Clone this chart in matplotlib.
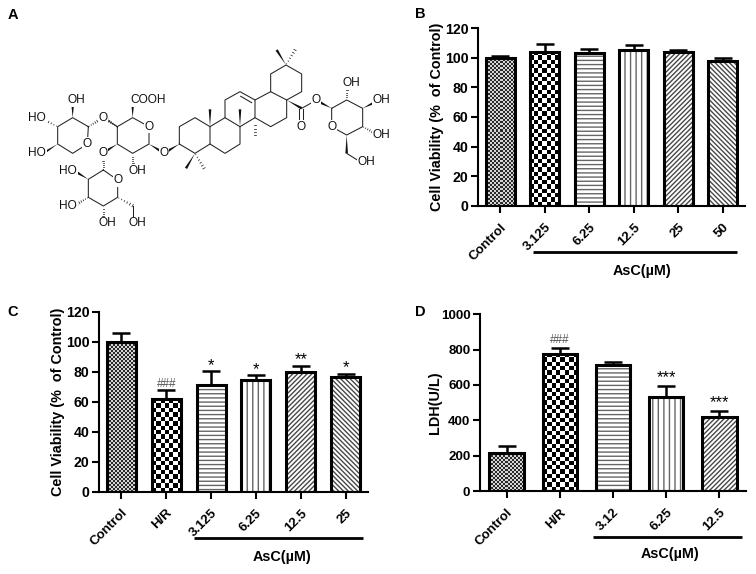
import numpy as np
import matplotlib
matplotlib.use('Agg')
import matplotlib.pyplot as plt
from matplotlib.patches import Polygon

plt.rcParams['font.family'] = ['Liberation Sans', 'DejaVu Sans']
plt.rcParams['hatch.linewidth'] = 1.0

###############################################################################
# DATA
labels_b = ['Control', '3.125', '6.25', '12.5', '25', '50']
values_b = [100, 104, 103, 105, 104, 98]
errors_b = [1, 5, 3, 3.5, 1.5, 2]
fills_b = ['fine', 'check', 'hline', 'vline', 'diag', 'anti']

labels_c = ['Control', 'H/R', '3.125', '6.25', '12.5', '25']
values_c = [100, 61.5, 71, 74.5, 80, 76.5]
errors_c = [5.5, 6, 9.2, 3, 4, 2]
marks_c = ['', '###', '*', '*', '**', '*']
fills_c = ['fine', 'check', 'hline', 'vline', 'diag', 'anti']

labels_d = ['Control', 'H/R', '3.12', '6.25', '12.5']
values_d = [215, 778, 712, 533, 417]
errors_d = [42, 29, 18, 61, 38]
marks_d = ['', '###', '', '***', '***']
fills_d = ['fine', 'check', 'hline', 'vline', 'diag']

# structure in panel A, in 3x zoom pixels
bonds = [
    # xylose
    [(265, 380), (262, 432), (218, 460), (173, 432), (173, 380), (218, 353), (265, 380)],
    # glucuronic acid
    [(352, 380), (398, 353), (447, 380), (447, 432), (398, 460), (352, 432), (352, 380)],
    [(310, 353), (352, 380)],
    # lower glucose
    [(310, 510), (353, 540), (353, 592), (310, 618), (265, 592), (265, 538), (310, 510)],
    [(398, 617), (398, 655)],
    # rings A-E
    [(491, 460), (505, 452)],
    [(538, 432), (538, 380), (585, 353), (630, 380), (630, 432), (585, 460), (538, 432)],
    [(630, 380), (675, 353), (720, 380), (720, 432), (675, 460), (630, 432)],
    [(675, 353), (675, 300), (720, 275), (765, 300), (765, 353), (720, 380)],
    [(765, 353), (812, 380), (860, 353), (860, 300), (812, 275), (765, 300)],
    [(812, 275), (812, 222), (858, 195), (905, 222), (905, 275), (860, 300)],
    [(722, 289), (755, 308)],
    # ester and glucose
    [(905, 325), (948, 301)],
    [(897, 328), (897, 370)],
    [(910, 328), (910, 370)],
    [(995, 325), (1040, 300), (1088, 325), (1088, 380), (1040, 405), (995, 380), (995, 325)],
    [(1040, 460), (1072, 480)],
]
wedges = [
    [(218, 353), (218, 315)], [(173, 432), (130, 460)], [(398, 353), (398, 315)],
    [(352, 432), (320, 452)], [(447, 432), (480, 452)], [(538, 432), (505, 452)],
    [(265, 538), (232, 518)], [(585, 460), (558, 505)], [(630, 380), (630, 328)],
    [(720, 380), (720, 328)], [(858, 195), (830, 150)], [(860, 300), (905, 325)],
    [(995, 325), (962, 308)], [(1088, 325), (1122, 308)], [(1040, 405), (1040, 460)],
]
hashes = [
    [(173, 380), (130, 358)], [(265, 380), (298, 360)], [(352, 380), (322, 360)],
    [(398, 460), (398, 497)], [(310, 510), (310, 478)], [(265, 592), (232, 612)],
    [(310, 618), (310, 655)], [(353, 592), (398, 617)], [(585, 460), (612, 505)],
    [(765, 353), (765, 405)], [(858, 195), (885, 150)], [(1040, 300), (1040, 265)],
    [(1088, 380), (1122, 398)],
]
atoms = [
    (230, 301, 'OH'), (112, 355, 'HO'), (112, 460, 'HO'), (310, 353, 'O'), (262, 432, 'O'),
    (443, 301, 'COOH'), (447, 380, 'O'), (310, 460, 'O'), (413, 513, 'OH'), (491, 460, 'O'),
    (205, 513, 'HO'), (353, 540, 'O'), (205, 618, 'HO'), (323, 670, 'OH'), (413, 670, 'OH'),
    (903, 380, 'O'), (948, 301, 'O'), (995, 380, 'O'), (1053, 250, 'OH'), (1145, 301, 'OH'),
    (1145, 405, 'OH'), (1098, 487, 'OH'),
]

###############################################################################
W, H = 756, 574
fig = plt.figure(figsize=(W / 100, H / 100), dpi=100)


def axes_px(x0, x1, ytop, ybottom):
    ax = fig.add_axes([x0 / W, 1 - ybottom / H, (x1 - x0) / W, (ybottom - ytop) / H])
    ax.patch.set_alpha(0)
    return ax


def texture(ax, xc, w, h, cell, low, high):
    # checker fill, no checker hatch in matplotlib
    p0 = ax.transData.transform((xc - w / 2, 0))
    p1 = ax.transData.transform((xc + w / 2, h))
    nx = max(int(round((p1[0] - p0[0]) / cell)), 1)
    ny = max(int(round((p1[1] - p0[1]) / cell)), 1)
    yy, xx = np.indices((ny, nx))
    ax.imshow((xx + yy) % 2, extent=(xc - w / 2, xc + w / 2, 0, h), origin='lower', aspect='auto',
              cmap='gray', vmin=low, vmax=high, interpolation='nearest', zorder=1)


def bars(ax, labels, values, errors, fills, ymax, yticks, ylabel, pad, ysize, width=0.65):
    xs = np.arange(1, len(values) + 1)
    ax.set_xlim(0.5, len(values) + 0.5)
    ax.set_ylim(0, ymax)
    for x, v, f in zip(xs, values, fills):
        if f == 'fine':
            texture(ax, x, width, v, 2, -0.25, 1.25)
        elif f == 'check':
            texture(ax, x, width, v, 4.3, 0, 1)
        else:
            hatch = {'hline': '----', 'vline': '|||', 'diag': '///////', 'anti': '\\\\\\\\\\\\\\'}[f]
            color = '#666666' if f in ('hline', 'vline') else '#484848'
            ax.bar(x, v, width, color='white', edgecolor=color, hatch=hatch, linewidth=0, zorder=1)
    ax.set_xlim(0.5, len(values) + 0.5)
    ax.set_ylim(0, ymax)
    ax.errorbar(xs, values, yerr=[[0] * len(errors), errors], fmt='none', ecolor='black',
                elinewidth=1.8, capsize=6.2, capthick=1.8, zorder=2)
    ax.bar(xs, values, width, facecolor='none', edgecolor='black', linewidth=2.2, zorder=3)
    ax.spines['top'].set_visible(False)
    ax.spines['right'].set_visible(False)
    ax.spines['left'].set_linewidth(1.5)
    ax.spines['bottom'].set_linewidth(1.5)
    ax.set_yticks(yticks)
    ax.set_xticks(xs)
    ax.set_xticklabels(labels, rotation=45, ha='right', rotation_mode='anchor')
    ax.tick_params(width=1.5, length=5)
    ax.tick_params(axis='x', pad=6, labelsize=9.5)
    ax.tick_params(axis='y', pad=2, labelsize=ysize)
    for t in ax.get_xticklabels() + ax.get_yticklabels():
        t.set_fontweight('bold')
    ax.set_ylabel(ylabel, fontsize=10.4, fontweight='bold', labelpad=pad)
    return xs


def marks(ax, xs, values, errors, marks, gap, hash_gap):
    for x, v, e, m in zip(xs, values, errors, marks):
        if m == '':
            continue
        if m[0] == '#':
            ax.text(x, v + e + hash_gap, m, ha='center', va='bottom', fontsize=8.5, color='#555555')
        else:
            ax.text(x, v + e + gap, m, ha='center', va='bottom', fontsize=12, color='black')


axb = axes_px(478, 745, 28, 206)
xs = bars(axb, labels_b, values_b, errors_b, fills_b, 120, range(0, 121, 20),
          'Cell Viability (%  of Control)', 0.5, 10.2)

axc = axes_px(99, 368, 311.7, 491.7)
xs = bars(axc, labels_c, values_c, errors_c, fills_c, 120, range(0, 121, 20),
          'Cell Viability (%  of Control)', 0.5, 10.2)
marks(axc, xs, values_c, errors_c, marks_c, -1, 0.3)

axd = axes_px(480, 746, 314.3, 491)
xs = bars(axd, labels_d, values_d, errors_d, fills_d, 1000, range(0, 1001, 200), 'LDH(U/L)', -1, 9.6)
marks(axd, xs, values_d, errors_d, marks_d, 4, 14)

###############################################################################
# overlay in pixels: panel letters, AsC brackets, structure
over = fig.add_axes([0, 0, 1, 1], zorder=5)
over.set_xlim(0, W)
over.set_ylim(H, 0)
over.axis('off')

for x, y, s in [(13, 15, 'A'), (420, 14, 'B'), (13, 312, 'C'), (420, 312, 'D')]:
    over.text(x, y, s, fontsize=10.5, fontweight='bold', ha='center', va='center')

for x0, x1, y, lx, ly in [(533, 737, 251.7, 641.7, 270.7), (194, 363, 538, 281.7, 557),
                          (592.7, 742, 537, 670, 554)]:
    over.plot([x0, x1], [y, y], color='black', lw=2, solid_capstyle='butt')
    over.text(lx, ly, 'AsC(\u00b5M)', fontsize=10.4, fontweight='bold', ha='center', va='center')

for line in bonds:
    pts = np.array(line) / 3
    over.plot(pts[:, 0], pts[:, 1], color='#222222', lw=0.75, solid_joinstyle='round')

for a, b in wedges:
    a, b = np.array(a) / 3, np.array(b) / 3
    n = np.array([-(b - a)[1], (b - a)[0]])
    n = n / np.hypot(*n) * 1.3
    over.add_patch(Polygon([a, b + n, b - n], closed=True, color='#111111', lw=0))

for a, b in hashes:
    a, b = np.array(a) / 3, np.array(b) / 3
    n = np.array([-(b - a)[1], (b - a)[0]])
    n = n / np.hypot(*n)
    for t in np.linspace(0.08, 1, 6):
        p = a + (b - a) * t
        q = n * 1.3 * t
        over.plot([p[0] - q[0], p[0] + q[0]], [p[1] - q[1], p[1] + q[1]], color='#222222', lw=0.55)

for x, y, s in atoms:
    over.text(x / 3, y / 3, s, fontsize=8.6, ha='center', va='center', color='#111111', zorder=6,
              bbox=dict(facecolor='white', edgecolor='none', pad=0.4))

fig.savefig('out.png', dpi=100)
